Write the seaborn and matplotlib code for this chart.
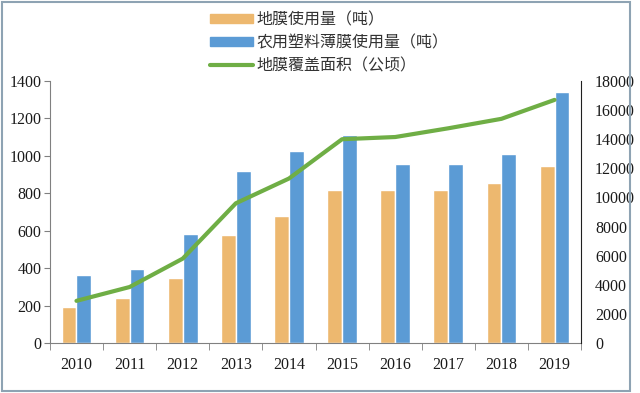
"""
Film usage and mulch coverage area, 2010-2019
"""
# %% IMPORT LIBRARIES
import matplotlib
matplotlib.use("Agg")
import matplotlib.pyplot as plt
from matplotlib.patches import Rectangle
import numpy as np
import pandas as pd
import seaborn as sns

sns.set_style("white")
plt.rcParams['font.family'] = ['Noto Sans CJK SC', 'DejaVu Sans']

# %% DATA
years = ["2010", "2011", "2012", "2013", "2014",
         "2015", "2016", "2017", "2018", "2019"]
mulch_film = [195, 240, 345, 575, 680, 815, 815, 815, 855, 945]
plastic_film = [365, 395, 580, 920, 1025, 1110, 955, 955, 1010, 1340]
mulch_area = [2900, 3850, 5800, 9600, 11300, 14000, 14150, 14750, 15400, 16700]

name_mulch = "地膜使用量（吨）"
name_plastic = "农用塑料薄膜使用量（吨）"
name_area = "地膜覆盖面积（公顷）"

bars = pd.DataFrame({"year": years, name_mulch: mulch_film,
                     name_plastic: plastic_film})
bars = bars.melt(id_vars="year", var_name="kind", value_name="tons")

# %% PLOT
fig = plt.figure(figsize=(6.4, 3.93), dpi=100)
ax = fig.add_axes([0.078, 0.127, 0.83, 0.667])

sns.barplot(data=bars, x="year", y="tons", hue="kind",
            palette=["#EDB86F", "#5B9BD5"], width=0.56, gap=0,
            saturation=1, ax=ax, legend=False)

ax2 = ax.twinx()
sns.pointplot(x=years, y=mulch_area, ax=ax2, color="#6FAE45",
              markers="", linewidth=3)

ax.set_ylim(0, 1400)
ax.set_yticks(range(0, 1401, 200))
ax2.set_ylim(0, 18000)
ax2.set_yticks(range(0, 18001, 2000))
ax.set_xlim(-0.5, 9.5)
ax.set_xlabel("")
ax.set_ylabel("")
ax2.set_ylabel("")

for lab in ax.get_yticklabels() + ax.get_xticklabels() + ax2.get_yticklabels():
    lab.set_fontfamily("Liberation Serif")
    lab.set_fontsize(11.5)
    lab.set_color("#1a1a1a")

# tick marks between categories on the x axis
ax.set_xticks(np.arange(-0.5, 10, 1), minor=True)
ax.tick_params(axis="x", which="major", length=0, pad=10)
ax.tick_params(axis="x", which="minor", length=5, color="#808080",
               direction="out", bottom=True)
ax.tick_params(axis="y", length=4, color="#808080", direction="out",
               left=True, pad=2)
ax2.tick_params(axis="y", length=0, pad=10)

for side in ["top", "right"]:
    ax.spines[side].set_visible(False)
ax.spines["left"].set_color("#808080")
ax.spines["bottom"].set_color("#808080")
for side in ["top", "left", "bottom"]:
    ax2.spines[side].set_visible(False)
ax2.spines["right"].set_color("#202020")

# Legend
handles = [Rectangle((0, 0), 1, 1, color="#EDB86F"),
           Rectangle((0, 0), 1, 1, color="#5B9BD5"),
           plt.Line2D([0], [0], color="#6FAE45", linewidth=3)]
fig.legend(handles, [name_mulch, name_plastic, name_area],
           loc="upper left", bbox_to_anchor=(0.305, 1.008), frameon=False,
           fontsize=11.5, handlelength=2.7, handleheight=0.5,
           handletextpad=0.25, labelspacing=0.38, labelcolor="#333333")

# frame around the picture
fig.patches.append(Rectangle((0.003, 0.004), 0.982, 0.99,
                             transform=fig.transFigure, fill=False,
                             edgecolor="#8EA3B3", linewidth=1.5))

plt.savefig("out.png", dpi=100)
